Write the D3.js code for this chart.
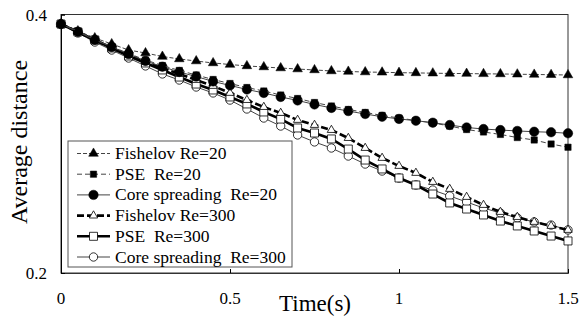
<!DOCTYPE html>
<html>
<head>
<meta charset="utf-8">
<script src="https://cdn.jsdelivr.net/npm/d3@7"></script>
<style>
  html, body { margin: 0; padding: 0; background: #fff; }
  svg { display: block; }
  text { font-family: "Liberation Serif", "Times New Roman", serif; fill: #000; }
</style>
</head>
<body>
<svg id="chart" width="583" height="326"></svg>
<script>
// ---- data ----
const times = d3.range(31).map(i => +(i * 0.05).toFixed(2));
const fishelov20 = [0.3926,0.3872,0.3818,0.3772,0.3725,0.3702,0.3675,0.3656,0.3640,0.3625,0.3613,0.3602,0.3594,0.3586,0.3578,0.3571,0.3563,0.3559,0.3555,0.3553,0.3550,0.3548,0.3546,0.3544,0.3543,0.3541,0.3540,0.3538,0.3536,0.3534,0.3532];
const pse20 = [0.3926,0.3868,0.3807,0.3752,0.3698,0.3648,0.3605,0.3567,0.3532,0.3497,0.3466,0.3435,0.3408,0.3377,0.3350,0.3319,0.3292,0.3265,0.3242,0.3219,0.3199,0.3180,0.3161,0.3137,0.3110,0.3091,0.3072,0.3048,0.3029,0.2998,0.2973];
const core20 = [0.3926,0.3867,0.3803,0.3749,0.3694,0.3640,0.3596,0.3555,0.3520,0.3482,0.3451,0.3420,0.3393,0.3362,0.3335,0.3304,0.3277,0.3253,0.3230,0.3209,0.3192,0.3178,0.3163,0.3145,0.3126,0.3114,0.3106,0.3099,0.3093,0.3089,0.3081];
const fishelov300 = [0.3926,0.3865,0.3803,0.3741,0.3687,0.3632,0.3586,0.3540,0.3493,0.3447,0.3393,0.3338,0.3284,0.3238,0.3184,0.3145,0.3106,0.3044,0.2967,0.2890,0.2828,0.2774,0.2704,0.2650,0.2588,0.2526,0.2472,0.2433,0.2395,0.2364,0.2333];
const pse300 = [0.3926,0.3865,0.3803,0.3741,0.3679,0.3625,0.3571,0.3516,0.3462,0.3416,0.3362,0.3308,0.3246,0.3191,0.3122,0.3083,0.3037,0.2959,0.2874,0.2805,0.2735,0.2681,0.2611,0.2542,0.2495,0.2449,0.2402,0.2364,0.2325,0.2286,0.2248];
const core300 = [0.3926,0.3857,0.3787,0.3725,0.3663,0.3602,0.3540,0.3493,0.3439,0.3393,0.3338,0.3269,0.3199,0.3137,0.3068,0.3014,0.2967,0.2905,0.2843,0.2789,0.2735,0.2681,0.2642,0.2596,0.2549,0.2503,0.2464,0.2426,0.2395,0.2371,0.2333];
const xTicks = [0, 0.5, 1, 1.5];
const xTickLabels = ["0", "0.5", "1", "1.5"];
const yTicks = [0.2, 0.4];
const yTickLabels = ["0.2", "0.4"];
const seriesNames = ["Fishelov Re=20", "PSE  Re=20", "Core spreading  Re=20", "Fishelov Re=300", "PSE  Re=300", "Core spreading  Re=300"];

// ---- styles ----
const styles = [
  { values: fishelov20, shape: d3.symbolTriangle, size: 40, fill: "#000", lw: 1, dash: "4,2", stroke: "#444" },
  { values: pse20, shape: d3.symbolSquare, size: 40, fill: "#000", lw: 1, dash: "5,3", stroke: "#444" },
  { values: core20, shape: d3.symbolCircle, size: 70, fill: "#000", lw: 1, dash: null, stroke: "#444" },
  { values: fishelov300, shape: d3.symbolTriangle, size: 30, fill: "#fff", lw: 2.6, dash: "7,3", stroke: "#000" },
  { values: pse300, shape: d3.symbolSquare, size: 64, fill: "#fff", lw: 2.6, dash: null, stroke: "#000" },
  { values: core300, shape: d3.symbolCircle, size: 55, fill: "#fff", lw: 1, dash: null, stroke: "#444" }
];

const svg = d3.select("#chart");
const M = { left: 61, right: 568, top: 14.5, bottom: 273 };
const x = d3.scaleLinear().domain([0, 1.5]).range([M.left, M.right]);
const y = d3.scaleLinear().domain([0.2, 0.4]).range([M.bottom, M.top]);

// frame
svg.append("rect").attr("x", M.left).attr("y", M.top)
  .attr("width", M.right - M.left).attr("height", M.bottom - M.top)
  .attr("fill", "none").attr("stroke", "#333").attr("stroke-width", 1);

// axes (ticks inward)
const xAxis = d3.axisBottom(x).tickValues(xTicks).tickSize(-4).tickFormat("");
svg.append("g").attr("transform", `translate(0,${M.bottom})`).call(xAxis)
  .call(g => g.select(".domain").attr("stroke", "#333"));
const yAxis = d3.axisLeft(y).tickValues(yTicks).tickSize(-4).tickFormat("");
svg.append("g").attr("transform", `translate(${M.left},0)`).call(yAxis)
  .call(g => g.select(".domain").attr("stroke", "#000"));

// tick labels
svg.selectAll(".xl").data(xTicks).enter().append("text")
  .attr("x", d => x(d)).attr("y", 304).attr("text-anchor", "middle")
  .attr("font-size", 17).text((d, i) => xTickLabels[i]);
svg.selectAll(".yl").data(yTicks).enter().append("text")
  .attr("x", 47).attr("y", d => y(d) + 6).attr("text-anchor", "end")
  .attr("font-size", 17).text((d, i) => yTickLabels[i]);

// axis titles
svg.append("text").attr("x", 315).attr("y", 311).attr("text-anchor", "middle")
  .attr("font-size", 23).text("Time(s)");
svg.append("text").attr("transform", "translate(27,142) rotate(-90)")
  .attr("text-anchor", "middle").attr("font-size", 24).text("Average distance");

// series
const line = d3.line().x((d, i) => x(times[i])).y(d => y(d));
const drawOrder = [5, 4, 3, 2, 1, 0];
drawOrder.forEach(k => {
  const s = styles[k];
  svg.append("path").datum(s.values).attr("d", line)
    .attr("fill", "none").attr("stroke", s.stroke).attr("stroke-width", s.lw)
    .attr("stroke-dasharray", s.dash);
  svg.append("g").selectAll("path").data(s.values).enter().append("path")
    .attr("d", d3.symbol().type(s.shape).size(s.size))
    .attr("transform", (d, i) => `translate(${x(times[i])},${y(d)})`)
    .attr("fill", s.fill).attr("stroke", "#000").attr("stroke-width", s.fill === "#fff" ? 0.8 : 0.5);
});

// legend
const lg = svg.append("g");
lg.append("rect").attr("x", 68).attr("y", 141).attr("width", 224).attr("height", 126)
  .attr("fill", "#fff").attr("stroke", "#555").attr("stroke-width", 1);
seriesNames.forEach((name, k) => {
  const s = styles[k];
  const cy = 153.5 + k * 20.7;
  lg.append("line").attr("x1", 77).attr("x2", 110).attr("y1", cy).attr("y2", cy)
    .attr("stroke", s.stroke).attr("stroke-width", s.lw)
    .attr("stroke-dasharray", s.dash);
  lg.append("path").attr("d", d3.symbol().type(s.shape).size(s.size)())
    .attr("transform", `translate(93.5,${cy})`)
    .attr("fill", s.fill).attr("stroke", "#000").attr("stroke-width", s.fill === "#fff" ? 0.8 : 0.5);
  lg.append("text").attr("x", 115).attr("y", cy + 5.5).attr("font-size", 17.5)
    .attr("xml:space", "preserve").style("white-space", "pre").text(name);
});
</script>
</body>
</html>
